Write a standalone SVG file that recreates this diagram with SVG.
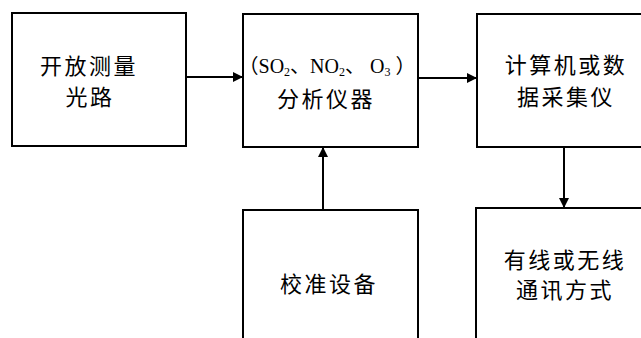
<svg xmlns="http://www.w3.org/2000/svg" width="641" height="338" viewBox="0 0 641 338">
<style>
.box{fill:#fff;stroke:#000;stroke-width:2}
.t{font-family:"Noto Sans CJK SC","Liberation Serif",sans-serif;font-size:22px;letter-spacing:2.5px;text-anchor:middle;dominant-baseline:central;fill:#000}
.t1{font-family:"Liberation Serif","Noto Sans CJK SC",serif;font-size:20px;text-anchor:middle;fill:#000}
.sub{font-size:12px}
.c{stroke:#000;stroke-width:2;fill:none}
</style>
<defs>
<marker id="ah" viewBox="0 0 10 10" refX="10" refY="5" markerWidth="10" markerHeight="10" markerUnits="userSpaceOnUse" orient="auto">
<path d="M0,0 L10,5 L0,10 z" fill="#000"/>
</marker>
</defs>
<rect width="641" height="338" fill="#fff"/>
<g id="n1">
<rect class="box" x="12" y="13" width="174" height="133"/>
<text class="t" x="89" y="64">开放测量</text>
<text class="t" x="90" y="95">光路</text>
</g>
<g id="n2">
<rect class="box" x="243" y="14" width="175" height="133"/>
<text class="t1" x="327" y="73">（SO<tspan class="sub" dy="3">2</tspan><tspan dy="-3">、NO</tspan><tspan class="sub" dy="3">2</tspan><tspan dy="-3">、 O</tspan><tspan class="sub" dy="3">3</tspan><tspan dy="-3"> ）</tspan></text>
<text class="t" x="326" y="97">分析仪器</text>
</g>
<g id="n3">
<rect class="box" x="477" y="14" width="200" height="133"/>
<text class="t" x="566" y="62.5">计算机或数</text>
<text class="t" x="566" y="94.5">据采集仪</text>
</g>
<g id="n4">
<rect class="box" x="243" y="210" width="175" height="150"/>
<text class="t" x="329" y="282">校准设备</text>
</g>
<g id="n5">
<rect class="box" x="476" y="208" width="200" height="150"/>
<text class="t" x="565" y="257.5">有线或无线</text>
<text class="t" x="565" y="287.5">通讯方式</text>
</g>
<g id="connectors">
<line class="c" x1="186" y1="77" x2="243" y2="77" marker-end="url(#ah)"/>
<line class="c" x1="418" y1="78" x2="477" y2="78" marker-end="url(#ah)"/>
<line class="c" x1="323" y1="210" x2="323" y2="147" marker-end="url(#ah)"/>
<line class="c" x1="564" y1="147" x2="564" y2="208" marker-end="url(#ah)"/>
</g>
</svg>
